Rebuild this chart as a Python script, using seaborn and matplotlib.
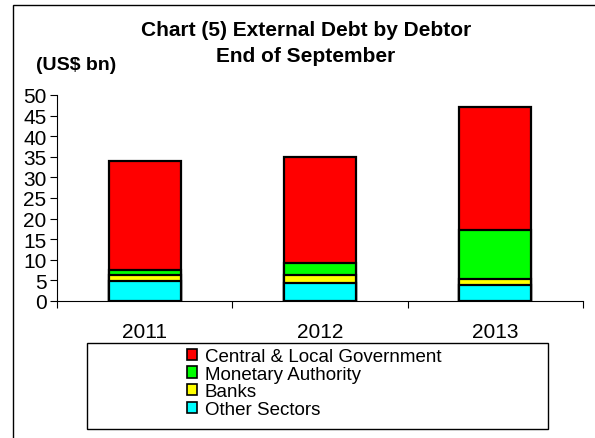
import matplotlib
matplotlib.use("Agg")
import matplotlib.pyplot as plt
from matplotlib.patches import Patch, Rectangle
import seaborn as sns

# External debt by debtor, end of September (US$ bn)
years = ["2011", "2012", "2013"]
other_sectors = [4.8, 4.4, 3.8]
banks = [1.6, 1.9, 1.5]
monetary_authority = [1.2, 2.9, 12.0]
central_local_gov = [26.4, 25.8, 29.7]

series_names = ["Central & Local Government", "Monetary Authority", "Banks", "Other Sectors"]
series_colors = ["#FF0000", "#00FF00", "#FFFF00", "#00FFFF"]

sns.set_style("ticks")
plt.rcParams["font.family"] = ["Liberation Sans", "DejaVu Sans"]
plt.rcParams["text.color"] = "black"
plt.rcParams["xtick.color"] = "black"
plt.rcParams["ytick.color"] = "black"
plt.rcParams["axes.labelcolor"] = "black"

fig = plt.figure(figsize=(5.95, 4.39), dpi=100)
W, H = 595, 439
ax = fig.add_axes([57 / W, 1 - 302 / H, (583 - 57) / W, (302 - 96) / H])

# stacked bars: draw cumulative totals from the top layer down
layers_bottom_up = [other_sectors, banks, monetary_authority, central_local_gov]
colors_bottom_up = series_colors[::-1]
cumulative = []
running = [0.0] * len(years)
for layer in layers_bottom_up:
    running = [r + v for r, v in zip(running, layer)]
    cumulative.append(list(running))

for totals, col in zip(cumulative[::-1], colors_bottom_up[::-1]):
    sns.barplot(x=years, y=totals, color=col, saturation=1, width=0.41,
                edgecolor="black", linewidth=1.6, ax=ax)

ax.set_xlim(-0.5, 2.5)
ax.set_ylim(0, 50)
ax.set_yticks(range(0, 51, 5))
ax.tick_params(axis="y", labelsize=15, length=5, width=0.8, pad=2.5, direction="out")

# category separators as major ticks, year labels on minor ticks
ax.set_xticks([-0.5, 0.5, 1.5, 2.5])
ax.set_xticklabels([])
ax.set_xticks([0, 1, 2], minor=True)
ax.set_xticklabels(years, minor=True)
ax.tick_params(axis="x", which="major", length=5, width=0.8, direction="out")
ax.tick_params(axis="x", which="minor", length=0, labelsize=15, pad=15)

for side in ["top", "right"]:
    ax.spines[side].set_visible(False)
for side in ["left", "bottom"]:
    ax.spines[side].set_linewidth(0.8)
    ax.spines[side].set_color("black")
ax.set_xlabel("")
ax.set_ylabel("")

# titles
fig.text(306 / W, 1 - 31 / H, "Chart (5) External Debt by Debtor", ha="center", va="center",
         fontsize=15, fontweight="bold")
fig.text(306 / W, 1 - 56 / H, "End of September", ha="center", va="center",
         fontsize=15, fontweight="bold")
fig.text(36 / W, 1 - 66 / H, "(US$ bn)", ha="left", va="center",
         fontsize=14, fontweight="bold")

# legend with its own frame
fig.patches.append(Rectangle((87 / W, 1 - 430 / H), (548 - 87) / W, (430 - 344) / H,
                             transform=fig.transFigure, fill=False, edgecolor="black",
                             linewidth=1.0))
handles = [Patch(facecolor=c, edgecolor="black", linewidth=1.2) for c in series_colors]
fig.legend(handles, series_names, loc="center", bbox_to_anchor=(314 / W, 1 - 384 / H),
           frameon=False, fontsize=13.5, handlelength=0.55, handleheight=0.55,
           handletextpad=0.4, labelspacing=0.03, borderpad=0)

# outer chart border
fig.patches.append(Rectangle((12.5 / W, -0.1), 1.5, 1.1 - 6 / H,
                             transform=fig.transFigure, fill=False, edgecolor="black",
                             linewidth=1.0))

fig.savefig("out.png", dpi=100)
